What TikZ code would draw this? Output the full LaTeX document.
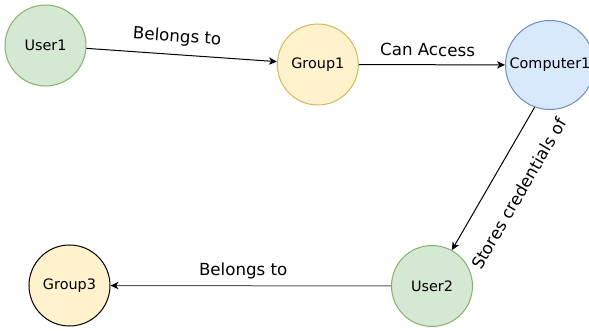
\documentclass[tikz,border=0pt]{standalone}
\usepackage{fontspec}
\setmainfont{DejaVu Sans}
\usetikzlibrary{arrows.meta}
\definecolor{userfill}{HTML}{D5E8D4}
\definecolor{userline}{HTML}{82B366}
\definecolor{groupfill}{HTML}{FFF2CC}
\definecolor{groupline}{HTML}{D6B656}
\definecolor{compfill}{HTML}{DAE8FC}
\definecolor{compline}{HTML}{6C8EBF}
\tikzset{
  entity/.style={circle, minimum size=81*0.75pt, inner sep=0pt, line width=0.75pt,
    font=\fontsize{10.8}{13}\selectfont},
  usernode/.style={entity, draw=userline, fill=userfill},
  groupnode/.style={entity, draw=groupline, fill=groupfill},
  computernode/.style={entity, draw=compline, fill=compfill, minimum size=89*0.75pt},
  relation/.style={line width=0.75pt, -{Stealth[length=6pt, width=5.5pt, inset=1.8pt, black]}},
  lbl/.style={font=\fontsize{12.5}{15}\selectfont, inner sep=0pt, sloped}
}
\begin{document}
\begin{tikzpicture}[x=0.75pt, y=-0.75pt]
  \useasboundingbox (0,0) rectangle (589,331);
  \begin{scope}
    \clip (0,0) rectangle (589,331);
    \node[usernode]     (user1)     at (45.5,45.5)  {User1};
    \node[groupnode]    (group1)    at (317.8,64.5) {Group1};
    \node[computernode] (computer1) at (550,65)     {Computer1};
    \node[usernode]     (user2)     at (432,286)    {User2};
    \node[groupnode, draw=black] (group3) at (69.5,285.5) {Group3};
  \end{scope}

  \draw[relation] (user1) -- (group1)
    node[lbl, pos=0.47, above=6.5pt] {Belongs to};
  \draw[relation] (group1) -- (computer1)
    node[lbl, pos=0.47, above=6pt] {Can Access};
  \draw[relation] (computer1.250.8) -- (user2.61)
    node[lbl, pos=0.5, below=17pt] {Stores credentials of};
  \draw[relation, draw=black!65] (user2) -- (group3)
    node[lbl, pos=0.527, above=4.5pt] {Belongs to};
\end{tikzpicture}
\end{document}
